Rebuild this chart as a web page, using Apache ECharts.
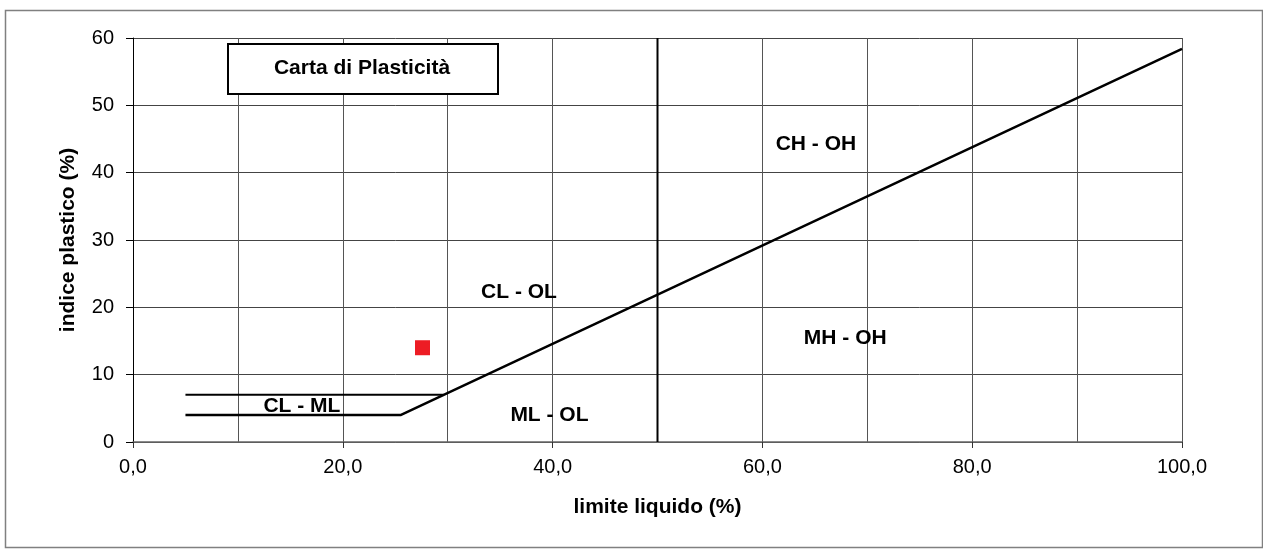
<!DOCTYPE html>
<html>
<head>
<meta charset="utf-8">
<script src="https://cdn.jsdelivr.net/npm/echarts@6/dist/echarts.min.js"></script>
<style>
html,body{margin:0;padding:0;background:#fff;}
#c{width:1263px;height:551px;}
</style>
</head>
<body>
<div id="c"></div>
<script>
// ---- data ----
const chartTitle = 'Carta di Plasticità';
const xName = 'limite liquido (%)';
const yName = 'indice plastico (%)';
const upperClMlLine = [[5, 7], [29.6, 7]];
const aLine = [[5, 4], [25.5, 4], [100, 58.4]];
const liquidLimit50 = [[50, 0], [50, 60]];
const samplePoint = [[27.6, 14]];
const zoneNames = ['CH - OH', 'MH - OH', 'CL - OL', 'ML - OL', 'CL - ML'];
const zoneX = [65.1, 67.9, 36.8, 39.7, 16.1];
const zoneY = [44.3, 15.4, 22.3, 4.0, 5.35];

const FONT = "'Liberation Sans', Arial, sans-serif";
const zoneData = zoneNames.map((n, i) => ({ value: [zoneX[i], zoneY[i]], name: n }));

const chart = echarts.init(document.getElementById('c'));
chart.setOption({
  animation: false,
  backgroundColor: '#fff',
  grid: { left: 133, right: 81, top: 38, bottom: 109, containLabel: false },
  xAxis: {
    type: 'value', min: 0, max: 100, interval: 20,
    name: xName, nameLocation: 'middle', nameGap: 55,
    nameTextStyle: { fontFamily: FONT, fontSize: 21, fontWeight: 'bold', color: '#000' },
    axisLine: { lineStyle: { color: '#666', width: 1.5 } },
    axisTick: { show: true, length: 6, lineStyle: { color: '#333' } },
    minorTick: { show: true, splitNumber: 2, length: 0 },
    minorSplitLine: { show: true, lineStyle: { color: '#555', width: 1 } },
    splitLine: { show: true, lineStyle: { color: '#555', width: 1 } },
    axisLabel: { margin: 15, fontFamily: FONT, fontSize: 20, color: '#000',
      formatter: v => v.toFixed(1).replace('.', ',') }
  },
  yAxis: {
    type: 'value', min: 0, max: 60, interval: 10,
    name: yName, nameLocation: 'middle', nameGap: 54,
    nameTextStyle: { fontFamily: FONT, fontSize: 21, fontWeight: 'bold', color: '#000' },
    axisLine: { show: true, lineStyle: { color: '#000', width: 1 } },
    axisTick: { show: true, length: 7, lineStyle: { color: '#000' } },
    splitLine: { show: true, lineStyle: { color: '#444', width: 1 } },
    axisLabel: { margin: 19, fontFamily: FONT, fontSize: 20, color: '#000' }
  },
  graphic: [
    { type: 'rect', left: 3, top: 8, shape: { width: 1257, height: 537 },
      style: { fill: 'none', stroke: '#808080', lineWidth: 1.5 }, z: 0, silent: true },
    { type: 'rect', left: 227, top: 43, shape: { width: 270, height: 50 },
      style: { fill: '#fff', stroke: '#000', lineWidth: 2 }, z: 100 },
    { type: 'text', x: 362, y: 68, z: 101,
      style: { text: chartTitle, fontFamily: FONT, fontSize: 21, fontWeight: 'bold',
        fill: '#000', align: 'center', verticalAlign: 'middle' } }
  ],
  series: [
    { type: 'line', data: upperClMlLine, symbol: 'none', silent: true,
      lineStyle: { color: '#000', width: 2 }, z: 5 },
    { type: 'line', data: aLine, symbol: 'none', silent: true,
      lineStyle: { color: '#000', width: 2.5 }, z: 5 },
    { type: 'line', data: liquidLimit50, symbol: 'none', silent: true,
      lineStyle: { color: '#000', width: 2 }, z: 5 },
    { type: 'scatter', data: samplePoint, symbol: 'rect', symbolSize: 15,
      itemStyle: { color: '#ed1c24', opacity: 1 }, z: 6 },
    { type: 'scatter', data: zoneData, symbolSize: 0, silent: true, z: 7,
      itemStyle: { opacity: 1 },
      label: { show: true, position: 'inside', formatter: p => p.name,
        fontFamily: FONT, fontSize: 21, fontWeight: 'bold', color: '#000',
        textBorderWidth: 0, textBorderColor: 'transparent' } }
  ]
});
</script>
</body>
</html>
